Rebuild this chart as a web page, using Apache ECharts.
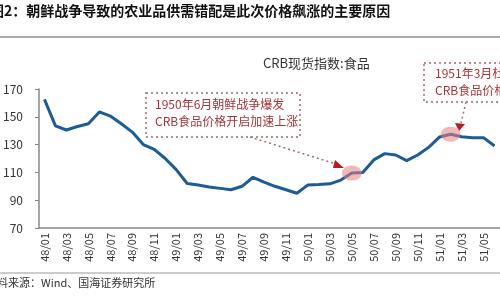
<!DOCTYPE html>
<html><head><meta charset="utf-8">
<script src="https://cdn.jsdelivr.net/npm/echarts@6/dist/echarts.min.js"></script>
<style>html,body{margin:0;padding:0;background:#fff}#c{width:500px;height:300px}</style>
</head><body><div id="c"></div>
<script>
var categories = ['48/01','48/02','48/03','48/04','48/05','48/06','48/07','48/08','48/09','48/10','48/11','48/12',
  '49/01','49/02','49/03','49/04','49/05','49/06','49/07','49/08','49/09','49/10','49/11','49/12',
  '50/01','50/02','50/03','50/04','50/05','50/06','50/07','50/08','50/09','50/10','50/11','50/12',
  '51/01','51/02','51/03','51/04','51/05','51/06'];
var crbFood = [162.5,143.5,140.5,143,145,153.5,150.5,145,139,130,126.5,120,
  112,102,101,99.5,98.5,97.5,100,106.5,103,100,97.5,95,
  101,101.3,101.8,104.5,109.5,110,119,123.5,122.5,118.5,122.5,128,
  135.5,137.5,135.7,135,135,129];
var highlights = [['50/05',109.5],['51/02',137.5]];
var yTicks = {min:70, max:170, interval:20};
var titleText = '图2：朝鲜战争导致的农业品供需错配是此次价格飙涨的主要原因';
var sourceText = '资料来源：Wind、国海证券研究所';
var seriesName = 'CRB现货指数:食品';
var note1 = ['1950年6月朝鲜战争爆发','CRB食品价格开启加速上涨'];
var note2 = ['1951年3月杜','CRB食品价格'];

var font = '"Noto Sans CJK SC", "Noto Sans", sans-serif';
var noteColor = '#a3363a';
var chart = echarts.init(document.getElementById('c'), null, {renderer:'canvas'});
chart.setOption({
  animation:false,
  textStyle:{fontFamily:font},
  grid:{left:39, top:89, height:139, width:466.2, containLabel:false},
  xAxis:{type:'category', data:categories, boundaryGap:true,
    axisLine:{lineStyle:{color:'#888', width:1.5}},
    axisTick:{interval:1, length:4, lineStyle:{color:'#888'}},
    axisLabel:{interval:1, rotate:90, fontSize:11, color:'#333', margin:5, fontFamily:font},
    splitLine:{show:false}},
  yAxis:{type:'value', min:yTicks.min, max:yTicks.max, interval:yTicks.interval,
    axisLine:{show:true, lineStyle:{color:'#888', width:1.5}},
    axisTick:{show:true, length:4, lineStyle:{color:'#888'}},
    axisLabel:{fontSize:12, color:'#333', margin:16, fontFamily:font},
    splitLine:{show:false}},
  series:[{type:'line', name:seriesName, data:crbFood, symbol:'none', smooth:false,
    lineStyle:{width:3, color:'#1e5c96'}, itemStyle:{color:'#1e5c96'},
    markPoint:{symbol:'circle', symbolSize:[20,15], silent:true,
      itemStyle:{color:'rgba(228,130,130,0.55)'}, label:{show:false},
      data:highlights.map(function(h){return {coord:h};})}}],
  graphic:[
    {type:'text', left:-10, top:4, style:{text:titleText, font:'bold 14px '+font, fill:'#111'}},
    {type:'rect', shape:{x:0,y:36,width:500,height:2}, style:{fill:'#aaa'}},
    {type:'rect', shape:{x:0,y:272.5,width:500,height:1}, style:{fill:'#999'}},
    {type:'text', left:-14, top:277, style:{text:sourceText, font:'11px '+font, fill:'#333'}},
    {type:'text', left:263, top:57, style:{text:seriesName, font:'13px '+font, fill:'#333'}},
    {type:'rect', shape:{x:146,y:93,width:154,height:44}, style:{fill:'none', stroke:'#a06a6a', lineWidth:1.5, lineDash:[2,3]}},
    {type:'text', left:155, top:98, style:{text:note1[0], font:'12px '+font, fill:noteColor}},
    {type:'text', left:155, top:115, style:{text:note1[1], font:'12px '+font, fill:noteColor}},
    {type:'line', shape:{x1:250,y1:137,x2:336,y2:164}, style:{stroke:'#a07070', lineWidth:1.5, lineDash:[2,3]}},
    {type:'polygon', shape:{points:[[335,160],[344,168],[333,168]]}, style:{fill:'#b02020'}},
    {type:'rect', shape:{x:424,y:63,width:100,height:39}, style:{fill:'none', stroke:'#a06a6a', lineWidth:1.5, lineDash:[2,3]}},
    {type:'text', left:435, top:67, style:{text:note2[0], font:'12px '+font, fill:noteColor}},
    {type:'text', left:435, top:84, style:{text:note2[1], font:'12px '+font, fill:noteColor}},
    {type:'line', shape:{x1:466,y1:102,x2:461,y2:123}, style:{stroke:'#a07070', lineWidth:1.5, lineDash:[2,3]}},
    {type:'polygon', shape:{points:[[455,123],[465,124],[459,131]]}, style:{fill:'#b02020'}}
  ]
});
</script></body></html>
